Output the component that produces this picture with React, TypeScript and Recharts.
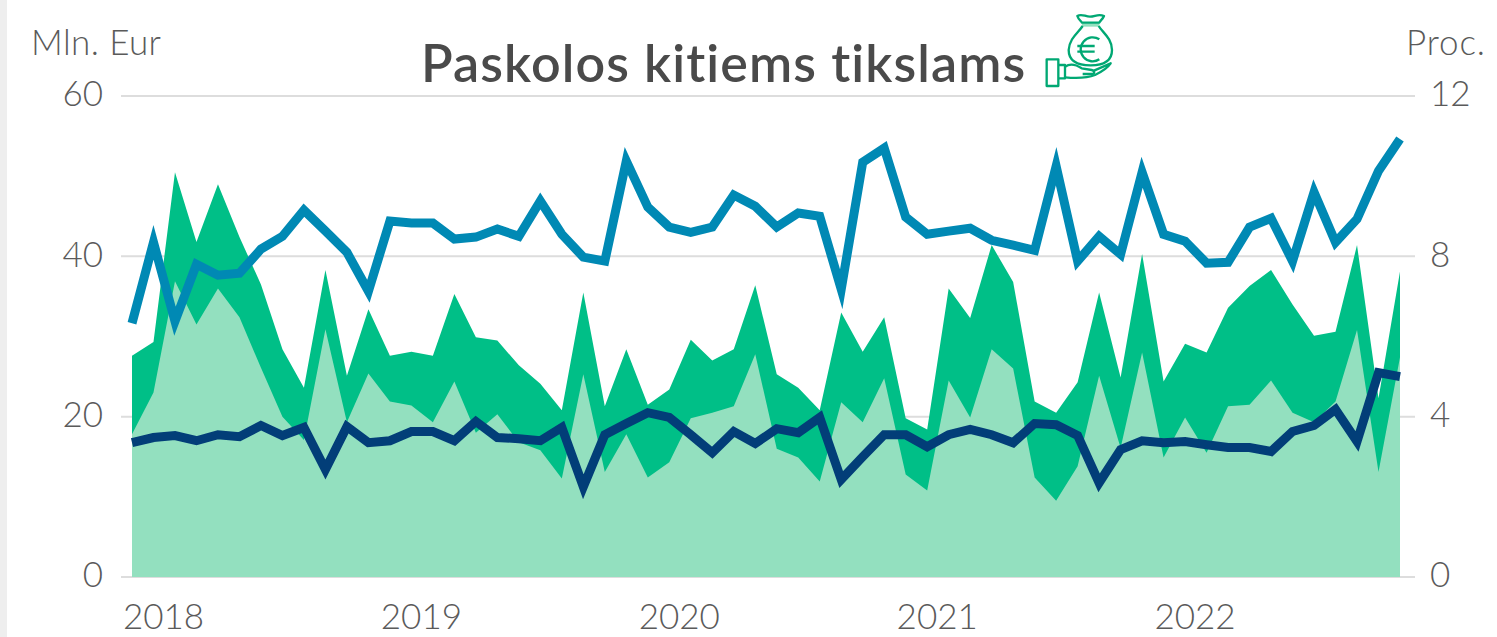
import React from 'react';
import { ComposedChart, Area, Line, XAxis, YAxis, CartesianGrid } from 'recharts';

const years = [2018, 2019, 2020, 2021, 2022];
const monthLabels = ['01','02','03','04','05','06','07','08','09','10','11','12'];
const months = years.flatMap((y) => monthLabels.map((m) => `${y}-${m}`));
const xTicks = years.map((y) => `${y}-02`);
const leftTicks = [0, 20, 40, 60];
const rightTicks = [0, 4, 8, 12];

const darkArea = [27.6,29.3,50.5,41.8,49.0,42.4,36.5,28.4,23.6,38.3,25.1,33.4,27.6,28.1,27.6,35.3,29.9,29.5,26.4,24.1,20.8,35.5,21.3,28.4,21.5,23.4,29.6,27.0,28.4,36.4,25.3,23.6,20.8,33.0,28.1,32.4,19.8,18.4,36.0,32.3,41.4,36.8,21.9,20.5,24.3,35.5,24.9,40.3,24.4,29.1,28.0,33.6,36.3,38.3,34.0,30.1,30.6,41.4,22.3,38.1];
const lightArea = [17.8,23.0,36.9,31.5,36.0,32.4,26.1,20.0,17.1,30.9,19.3,25.4,21.9,21.4,19.3,24.4,18.0,20.3,16.8,15.8,12.3,25.3,13.1,17.8,12.4,14.3,19.8,20.5,21.3,27.8,16.0,14.9,11.9,21.8,19.3,24.8,12.8,10.8,24.5,19.9,28.4,26.0,12.4,9.5,13.8,25.1,16.1,28.0,14.9,19.9,15.5,21.3,21.5,24.5,20.5,19.3,21.9,30.8,13.1,27.4];
const blueLine = [6.33,8.35,6.38,7.8,7.53,7.58,8.18,8.5,9.15,8.63,8.1,7.13,8.88,8.83,8.83,8.43,8.48,8.68,8.5,9.38,8.55,7.98,7.88,10.38,9.23,8.73,8.6,8.73,9.53,9.25,8.73,9.08,9.0,7.18,10.35,10.7,8.98,8.55,8.63,8.7,8.4,8.28,8.15,10.25,7.88,8.5,8.05,10.1,8.55,8.38,7.83,7.85,8.73,8.95,7.88,9.6,8.35,8.93,10.13,10.93];
const navyLine = [3.35,3.48,3.53,3.4,3.55,3.5,3.78,3.53,3.73,2.68,3.75,3.35,3.4,3.63,3.63,3.4,3.88,3.48,3.45,3.4,3.73,2.25,3.55,3.83,4.1,3.98,3.55,3.1,3.63,3.33,3.7,3.6,3.98,2.43,3.0,3.55,3.55,3.25,3.55,3.68,3.55,3.35,3.83,3.8,3.53,2.35,3.18,3.4,3.35,3.38,3.3,3.23,3.23,3.13,3.63,3.78,4.18,3.38,5.1,5.0];

const data = months.map((month, i) => ({
  month,
  dark: darkArea[i],
  light: lightArea[i],
  blue: blueLine[i],
  navy: navyLine[i],
}));

const FONT = 'Lato, "Open Sans", sans-serif';
const TICK = '#5a5a5a';

const XTick = (props: any) => (
  <text x={props.x + 10} y={props.y + 35} textAnchor="middle" dominantBaseline="middle"
    fontFamily={FONT} fontWeight={300} fontSize={35} fill={TICK}>
    {String(props.payload.value).slice(0, 4)}
  </text>
);

const Icon = () => (
  <svg width={110} height={100} viewBox="0 0 330 300"
    style={{ position: 'absolute', left: 1020, top: 0 }}
    fill="none" stroke="#00a873" strokeWidth={7} strokeLinejoin="round">
    <path d="M186 70 L238 70 L238 80 L186 80 Z" fill="#93e0bf" stroke="none" />
    <path d="M172 48 C185 40 195 50 210 50 C225 50 235 40 252 48 C248 58 240 62 238 68 L186 68 C182 62 175 58 172 48 Z" />
    <path d="M188 78 C175 98 148 115 146 150 C146 182 170 196 212 196 C254 196 276 182 276 150 C276 115 248 98 236 78" />
    <path d="M238 118 A 36 36 0 1 0 238 178" />
    <path d="M172 138 L224 138 M172 155 L224 155" />
    <path d="M80 178 H115 V258 H80 Z" />
    <path d="M115 195 H135 V235 H115" />
    <path d="M135 200 C150 190 170 195 185 205 L215 210 C225 212 225 222 215 222 L188 222" />
    <path d="M222 212 L272 190 C262 205 245 215 225 225 C200 235 170 235 135 232" />
  </svg>
);

export default function App() {
  return (
    <div style={{ position: 'absolute', left: 0, top: 0, width: 1497, height: 637, overflow: 'hidden', background: '#fff' }}>
      <div style={{ position: 'absolute', left: 0, top: 0, width: 7, height: 637, background: '#eeeeee' }} />
      <ComposedChart width={1497} height={637} data={data}
        margin={{ top: 96, right: 22, bottom: 0, left: 61 }}>
        <CartesianGrid horizontal vertical={false} stroke="#dddddd" strokeWidth={2} yAxisId="left" />
        <XAxis dataKey="month" scale="point" padding={{ left: 11, right: 15 }} ticks={xTicks} interval={0}
          axisLine={false} tickLine={false} height={60} tick={<XTick />} />
        <YAxis yAxisId="left" domain={[0, 60]} ticks={leftTicks} width={60} axisLine={false} tickLine={false}
          tickMargin={12} tick={{ fontFamily: FONT, fontWeight: 300, fontSize: 35, fill: TICK, dy: -2 }} />
        <YAxis yAxisId="right" orientation="right" domain={[0, 12]} ticks={rightTicks} width={60} axisLine={false} tickLine={false}
          tickMargin={9} tick={{ fontFamily: FONT, fontWeight: 300, fontSize: 35, fill: TICK, dy: -2 }} />
        <Area yAxisId="left" type="linear" dataKey="dark" fill="#00bf87" fillOpacity={1} stroke="none" isAnimationActive={false} dot={false} activeDot={false} />
        <Area yAxisId="left" type="linear" dataKey="light" fill="#93e0bf" fillOpacity={1} stroke="none" isAnimationActive={false} dot={false} activeDot={false} />
        <Line yAxisId="right" type="linear" dataKey="blue" stroke="#0089b4" strokeWidth={9} strokeMiterlimit={10} dot={false} activeDot={false} isAnimationActive={false} />
        <Line yAxisId="right" type="linear" dataKey="navy" stroke="#023e78" strokeWidth={9} strokeMiterlimit={10} dot={false} activeDot={false} isAnimationActive={false} />
      </ComposedChart>
      <div style={{ position: 'absolute', left: 31, top: 20, fontFamily: FONT, fontWeight: 300, fontSize: 35, letterSpacing: 0.4, color: TICK, whiteSpace: 'nowrap' }}>Mln. Eur</div>
      <div style={{ position: 'absolute', left: 1406, top: 20, fontFamily: FONT, fontWeight: 300, fontSize: 35, letterSpacing: 0.9, color: TICK, whiteSpace: 'nowrap' }}>Proc.</div>
      <div style={{ position: 'absolute', left: 421, top: 32, fontFamily: FONT, fontWeight: 600, fontSize: 52, letterSpacing: 1.1, lineHeight: '60px', color: '#4a4a4a', whiteSpace: 'nowrap' }}>Paskolos kitiems tikslams</div>
      <Icon />
    </div>
  );
}
